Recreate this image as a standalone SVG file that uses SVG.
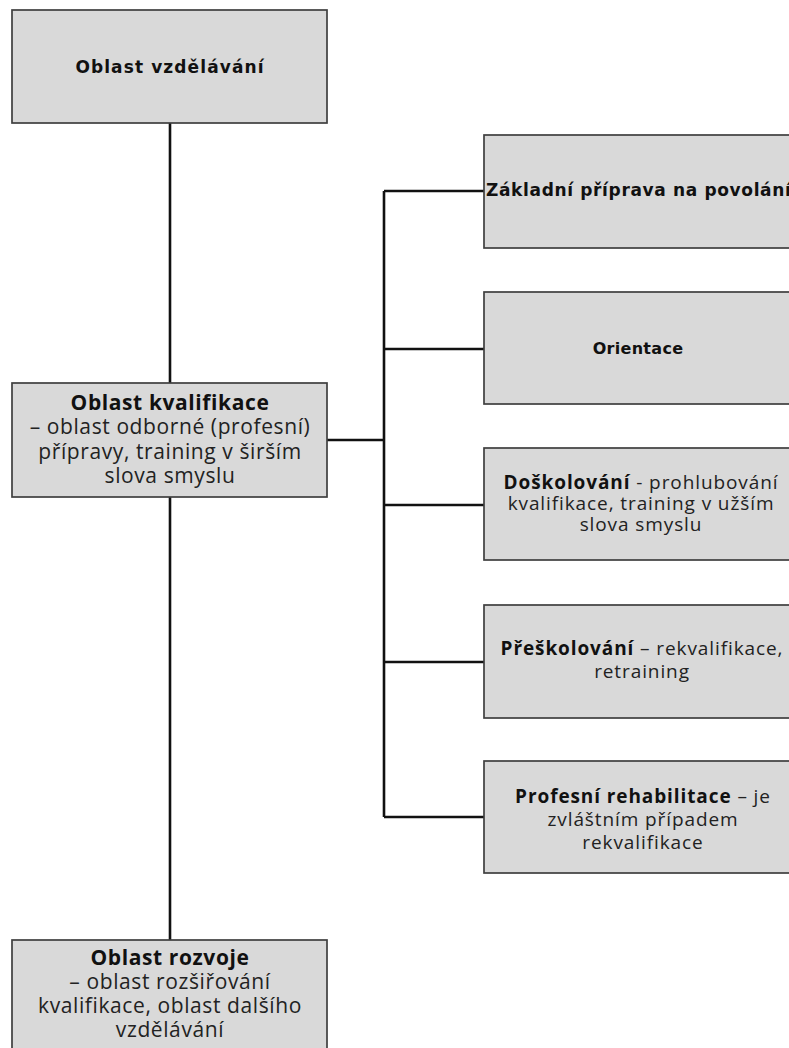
<svg xmlns="http://www.w3.org/2000/svg" width="789" height="1048" viewBox="0 0 789 1048">
<style>
.box{fill:#d9d9d9;stroke:#3f3f3f;stroke-width:1.7}
.con{stroke:#111;stroke-width:2.6;fill:none}
.v{font-family:"DejaVu Sans",Verdana,sans-serif;font-weight:bold;font-size:17px;fill:#111;letter-spacing:0.65px}
.c{font-family:"Open Sans","Noto Sans",sans-serif;font-size:21px;fill:#222;text-anchor:middle;letter-spacing:0.6px}
.r{font-family:"Open Sans","Noto Sans",sans-serif;font-size:19px;fill:#222;text-anchor:middle;letter-spacing:0.9px}
.b{font-weight:bold;fill:#111}
</style>
<rect width="789" height="1048" fill="#fff"/>
<g id="connectors">
<path class="con" d="M170 123V383M170 497V940M327 440H384M384 191V817M384 191H484M384 349H484M384 505H484M384 662H484M384 817H484"/>
</g>
<g id="oblast-vzdelavani">
<rect class="box" x="12" y="10" width="315" height="113"/>
<text class="v" x="170" y="73" text-anchor="middle" style="letter-spacing:1.1px">Oblast vzdělávání</text>
</g>
<g id="oblast-kvalifikace">
<rect class="box" x="12" y="383" width="315" height="114"/>
<text class="c"><tspan class="b" x="170" y="410">Oblast kvalifikace</tspan><tspan x="170" y="434">– oblast odborné (profesní)</tspan><tspan x="170" y="459">přípravy, training v širším</tspan><tspan x="170" y="483">slova smyslu</tspan></text>
</g>
<g id="oblast-rozvoje">
<rect class="box" x="12" y="940" width="315" height="120"/>
<text class="c"><tspan class="b" x="170" y="965">Oblast rozvoje</tspan><tspan x="170" y="989">– oblast rozšiřování</tspan><tspan x="170" y="1013">kvalifikace, oblast dalšího</tspan><tspan x="170" y="1037">vzdělávání</tspan></text>
</g>
<g id="zakladni-priprava">
<rect class="box" x="484" y="135" width="316" height="113"/>
<text class="v" x="486" y="196">Základní příprava na povolání</text>
</g>
<g id="orientace">
<rect class="box" x="484" y="292" width="316" height="112"/>
<text class="v" x="638" y="354" text-anchor="middle" style="font-size:16px;letter-spacing:0.3px">Orientace</text>
</g>
<g id="doskolovani">
<rect class="box" x="484" y="448" width="316" height="112"/>
<text class="r"><tspan x="641" y="489"><tspan class="b">Doškolování</tspan> - prohlubování</tspan><tspan x="641" y="510">kvalifikace, training v užším</tspan><tspan x="641" y="531">slova smyslu</tspan></text>
</g>
<g id="preskolovani">
<rect class="box" x="484" y="605" width="316" height="113"/>
<text class="r"><tspan x="642" y="655"><tspan class="b">Přeškolování</tspan> – rekvalifikace,</tspan><tspan x="642" y="678">retraining</tspan></text>
</g>
<g id="profesni-rehabilitace">
<rect class="box" x="484" y="761" width="316" height="112"/>
<text class="r"><tspan x="643" y="803"><tspan class="b">Profesní rehabilitace</tspan> – je</tspan><tspan x="643" y="826">zvláštním případem</tspan><tspan x="643" y="849">rekvalifikace</tspan></text>
</g>
</svg>
